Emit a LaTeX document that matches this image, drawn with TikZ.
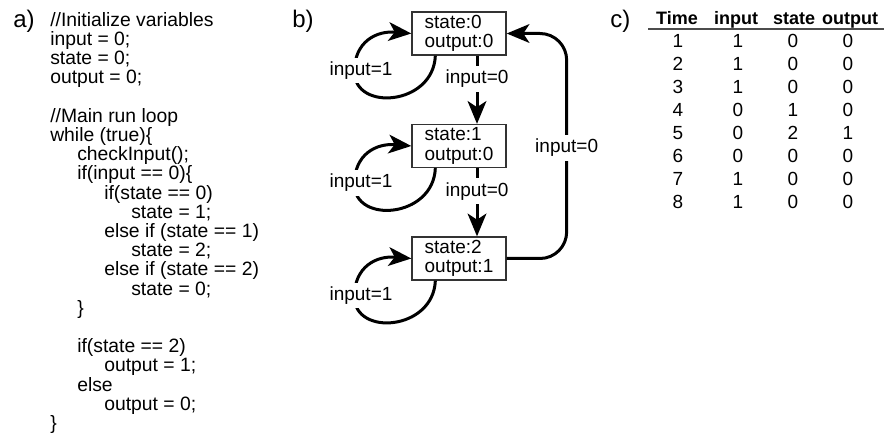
\documentclass[tikz,border=0pt]{standalone}
\usepackage{fontspec}
\setmainfont{Liberation Sans}
\usetikzlibrary{arrows.meta,calc}

\tikzset{
	statebox/.style={draw=black!80, line width=1pt, fill=white, minimum width=70.5pt, minimum height=32.25pt, inner sep=0.75pt, align=left, font=\fontsize{14.25}{14.4}\selectfont},
	trans/.style={line width=2.25pt, -{Stealth[length=17pt,width=14pt,inset=4.5pt]}},
	translabel/.style={fill=white, inner sep=3pt, font=\fontsize{14.25}{14.4}\selectfont},
	panel/.style={anchor=base west, inner sep=0pt, font=\fontsize{18}{18}\selectfont},
	colhead/.style={anchor=base, inner sep=0.75pt, font=\bfseries\fontsize{13.5}{13.5}\selectfont},
	colbody/.style={anchor=north, inner sep=0.75pt, align=center, font=\fontsize{14.25}{17.25}\selectfont},
}

\begin{document}
\begin{tikzpicture}[x=0.75pt,y=0.75pt,yscale=-1,xscale=1]
	\useasboundingbox (0,0) rectangle (891,434);

	% Panel labels
	\draw (13,28) node [panel] (pa) {a)};
	\draw (292,28) node [panel] (pb) {b)};
	\draw (610,28) node [panel] (pc) {c)};

	% Text Node
	\draw (49,11) node [anchor=north west][inner sep=0.75pt][align=left, font=\fontsize{14.5}{14.4}\selectfont] (code) {//Initialize variables\\
	input = 0;\\
	state = 0;\\
	output = 0;\\[14.4pt]
	//Main run loop\\
	while (true)\{\\
	\hspace*{20.25pt}checkInput();\\
	\hspace*{20.25pt}if(input == 0)\{\\
	\hspace*{40.5pt}if(state == 0)\\
	\hspace*{60.75pt}state = 1;\\
	\hspace*{40.5pt}else if (state == 1)\\
	\hspace*{60.75pt}state = 2;\\
	\hspace*{40.5pt}else if (state == 2)\\
	\hspace*{60.75pt}state = 0;\\
	\hspace*{20.25pt}\}\\[14.4pt]
	\hspace*{20.25pt}if(state == 2)\\
	\hspace*{40.5pt}output = 1;\\
	\hspace*{20.25pt}else\\
	\hspace*{40.5pt}output = 0;\\
	\}};

	% States
	\node [statebox] (s0) at (459,33.5) {state:0\\output:0};
	\node [statebox] (s1) at (459,146) {state:1\\output:0};
	\node [statebox] (s2) at (459,258.5) {state:2\\output:1};

	% Self loops
	\draw [trans] ($(s0.south west)+(24,0)$) .. controls +(-2,50) and +(0,40) .. ++(-81,16) .. controls +(0,-30) and +(-35,-3) .. (s0.west);
	\draw [trans] ($(s1.south west)+(24,0)$) .. controls +(-2,50) and +(0,40) .. ++(-81,16) .. controls +(0,-30) and +(-35,-3) .. (s1.west);
	\draw [trans] ($(s2.south west)+(24,0)$) .. controls +(-2,50) and +(0,40) .. ++(-81,16) .. controls +(0,-30) and +(-35,-3) .. (s2.west);
	\node [translabel] (l00) at ($(s0)+(-98,37)$) {input=1};
	\node [translabel] (l11) at ($(s1)+(-98,37)$) {input=1};
	\node [translabel] (l22) at ($(s2)+(-98,37)$) {input=1};

	% Connection
	\draw [trans] ($(s0.south)+(18,0)$) -- node [translabel, pos=0.34] (l01) {input=0} ($(s1.north)+(18,0)$);
	% Connection
	\draw [trans] ($(s1.south)+(18,0)$) -- node [translabel, pos=0.34] (l12) {input=0} ($(s2.north)+(18,0)$);
	% Connection
	\draw [trans, rounded corners=20pt] (s2.east) -| ($(s1.east)+(60,0)$) |- (s0.east);
	\node [translabel] (l20) at ($(s1.east)+(60,2)$) {input=0};

	% Table
	\draw [black!70, line width=1pt] (648,29) -- (884,29);
	\draw (677,24.5) node [colhead] (hTime) {Time};
	\draw (736,24.5) node [colhead] (hInput) {input};
	\draw (794,24.5) node [colhead] (hState) {state};
	\draw (850,24.5) node [colhead] (hOutput) {output};
	\draw (678,33) node [colbody] (cTime) {1\\2\\3\\4\\5\\6\\7\\8};
	\draw (738,33) node [colbody] (cInput) {1\\1\\1\\0\\0\\0\\1\\1};
	\draw (793,33) node [colbody] (cState) {0\\0\\0\\1\\2\\0\\0\\0};
	\draw (848,33) node [colbody] (cOutput) {0\\0\\0\\0\\1\\0\\0\\0};

\end{tikzpicture}
\end{document}
